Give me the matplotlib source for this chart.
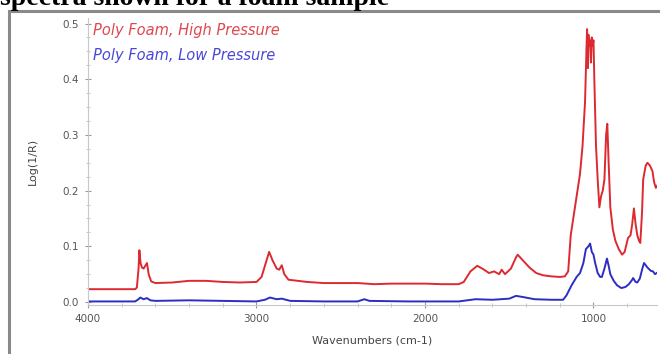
import matplotlib.pyplot as plt
from matplotlib.patches import Rectangle
from matplotlib.ticker import MultipleLocator

# wavenumbers (cm-1) and Log(1/R)
high_wn = [4000, 3720, 3710, 3700, 3695, 3688, 3680, 3670, 3660, 3650, 3640, 3625,
           3600, 3500, 3400, 3300, 3200, 3100, 3000, 2970, 2945, 2925, 2905, 2880,
           2865, 2850, 2835, 2810, 2700, 2600, 2500, 2400, 2300, 2200, 2100, 2000,
           1900, 1800, 1770, 1730, 1690, 1660, 1620, 1590, 1560, 1545, 1525, 1490,
           1460, 1450, 1420, 1380, 1340, 1300, 1250, 1200, 1170, 1150, 1135, 1120,
           1100, 1080, 1065, 1050, 1042, 1038, 1033, 1030, 1025, 1020, 1015, 1010,
           1005, 1000, 995, 985, 975, 965, 955, 945, 935, 925, 918, 910, 900, 885,
           870, 850, 830, 815, 795, 780, 770, 760, 750, 740, 730, 722, 712, 705,
           690, 680, 665, 650, 640, 630, 620]
high_val = [0.023, 0.023, 0.026, 0.06, 0.093, 0.07, 0.062, 0.06, 0.065, 0.07, 0.05, 0.037,
            0.034, 0.035, 0.038, 0.038, 0.036, 0.035, 0.036, 0.045, 0.07, 0.09, 0.075, 0.06,
            0.058, 0.066, 0.05, 0.04, 0.036, 0.034, 0.034, 0.034, 0.032, 0.033, 0.033, 0.033,
            0.032, 0.032, 0.036, 0.055, 0.065, 0.06, 0.052, 0.055, 0.05, 0.058, 0.05, 0.06,
            0.08, 0.085, 0.075, 0.062, 0.052, 0.048, 0.046, 0.045, 0.046, 0.055, 0.12, 0.15,
            0.19, 0.23, 0.28, 0.36, 0.45, 0.49, 0.42, 0.48, 0.46, 0.47, 0.43, 0.475,
            0.46, 0.47, 0.40, 0.28, 0.22, 0.17, 0.19, 0.2, 0.22, 0.3, 0.32, 0.25, 0.17, 0.13,
            0.11, 0.095, 0.085, 0.09, 0.115, 0.12, 0.14, 0.168, 0.14, 0.12, 0.11, 0.106, 0.16, 0.22,
            0.245, 0.25, 0.245, 0.235, 0.215, 0.205, 0.21]

low_wn = [4000, 3720, 3700, 3690, 3670, 3650, 3630, 3600, 3400, 3200, 3000, 2950,
          2920, 2880, 2850, 2800, 2600, 2400, 2360, 2330, 2100, 1900, 1800, 1700,
          1600, 1500, 1460, 1420, 1350, 1250, 1180, 1160, 1130, 1100, 1080, 1060,
          1045, 1030, 1020, 1010, 1000, 990, 975, 960, 950, 935, 920, 910, 900,
          880, 860, 835, 810, 790, 770, 765, 750, 740, 725, 710, 700, 680, 660,
          647, 635, 620]
low_val = [0.001, 0.001, 0.005, 0.008, 0.005, 0.007, 0.003, 0.002, 0.003, 0.002, 0.001, 0.004,
           0.008, 0.005, 0.006, 0.002, 0.001, 0.001, 0.005, 0.002, 0.001, 0.001, 0.001, 0.005,
           0.004, 0.006, 0.011, 0.009, 0.005, 0.004, 0.004, 0.012, 0.03, 0.045, 0.052, 0.07,
           0.095, 0.1, 0.105, 0.09, 0.085, 0.07, 0.052, 0.045, 0.045, 0.06, 0.078, 0.065, 0.05,
           0.038, 0.03, 0.025, 0.027, 0.032, 0.04, 0.043, 0.036, 0.035, 0.042, 0.06, 0.07, 0.062, 0.056,
           0.055, 0.05, 0.053]

fig = plt.figure(figsize=(6.6, 3.54), dpi=100)

# title, cut off at the top of the image like in the source
fig.text(0.0, 1 - 5 / 354, "spectra shown for a foam sample", family="Liberation Serif",
         fontweight="bold", fontsize=20, va="baseline", ha="left")

# grey frame round the chart
fig.patches.append(Rectangle((9 / 660, -0.01), 1.0, 1 - 11 / 354 + 0.01, transform=fig.transFigure,
                             fill=False, edgecolor="#8a8a8a", linewidth=2.2))

ax = fig.add_axes([88 / 660, 1 - 305 / 354, (657 - 88) / 660, (305 - 18) / 354])
ax.plot(high_wn, high_val, color="#dc2a30", lw=1.4)
ax.plot(low_wn, low_val, color="#2d2dc4", lw=1.4)

ax.set_xlim(4000, 623)
ax.set_ylim(-0.0054, 0.51)
ax.xaxis.set_major_locator(MultipleLocator(1000))
ax.xaxis.set_minor_locator(MultipleLocator(200))
ax.yaxis.set_major_locator(MultipleLocator(0.1))
ax.yaxis.set_minor_locator(MultipleLocator(0.025))
ax.yaxis.set_major_formatter(plt.FormatStrFormatter("%.1f"))

for s in ["top", "right"]:
    ax.spines[s].set_visible(False)
for s in ["left", "bottom"]:
    ax.spines[s].set_color("#c8c8c8")
    ax.spines[s].set_linewidth(0.8)

ax.tick_params(which="major", direction="inout", length=5, width=0.8, color="#999999",
               labelsize=7.5, labelcolor="#555555", pad=4)
ax.tick_params(which="minor", direction="inout", length=3, width=0.6, color="#bbbbbb")

ax.set_xlabel("Wavenumbers (cm-1)", fontsize=8, color="#444444", labelpad=8)
ax.set_ylabel("Log(1/R)", fontsize=8, color="#444444", labelpad=18)

ax.text(0.008, 0.955, "Poly Foam, High Pressure", transform=ax.transAxes, color="#e0474f",
        style="italic", fontsize=10.5, va="center", ha="left")
ax.text(0.008, 0.871, "Poly Foam, Low Pressure", transform=ax.transAxes, color="#4848d8",
        style="italic", fontsize=10.5, va="center", ha="left")

fig.savefig("out.png", dpi=100)
